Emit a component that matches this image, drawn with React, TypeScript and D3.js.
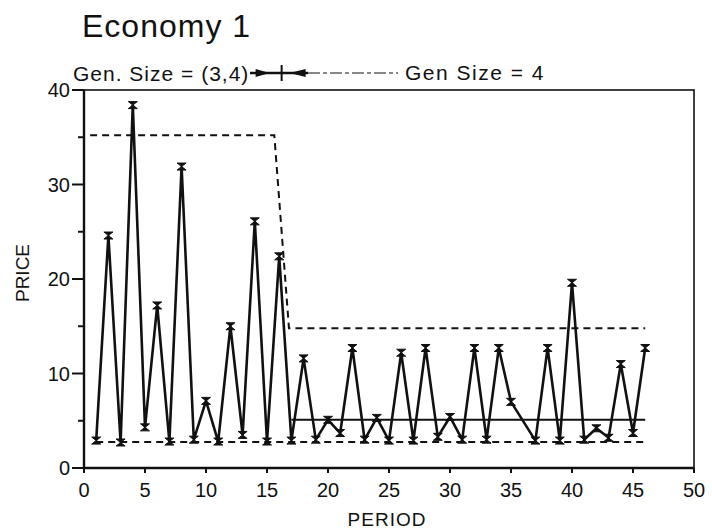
import * as d3 from "d3";
import { useEffect, useRef } from "react";

const periods = [1, 2, 3, 4, 5, 6, 7, 8, 9, 10, 11, 12, 13, 14, 15, 16, 17, 18, 19, 20, 21, 22, 23, 24, 25, 26, 27, 28, 29, 30, 31, 32, 33, 34, 35, 37, 38, 39, 40, 41, 42, 43, 44, 45, 46];
const prices = [2.9, 24.6, 2.7, 38.4, 4.3, 17.2, 2.8, 31.9, 3.0, 7.1, 2.8, 15.0, 3.5, 26.1, 2.8, 22.4, 2.9, 11.6, 3.0, 5.1, 3.7, 12.7, 3.0, 5.3, 2.9, 12.2, 2.9, 12.7, 3.3, 5.4, 3.0, 12.7, 3.0, 12.7, 7.0, 2.9, 12.7, 2.9, 19.6, 3.0, 4.2, 3.2, 11.0, 3.7, 12.7];

// upper bound (dashed, drops when generation size changes)
const upperPeriods = [0.5, 15.6, 16.8, 46];
const upperValues = [35.2, 35.2, 14.8, 14.8];
// lower bound (dashed)
const lowerPeriods = [1, 46];
const lowerValues = [2.75, 2.75];
// equilibrium for gen size 4 (solid)
const eqPeriods = [17, 46];
const eqValues = [5.1, 5.1];

const xTicks = [0, 5, 10, 15, 20, 25, 30, 35, 40, 45, 50];
const yTicks = [0, 5, 10, 15, 20, 25, 30, 35, 40];
const yLabels = [0, 10, 20, 30, 40];
const switchPeriod = 16.2;

const W = 712;
const H = 529;
const FONT = "'Liberation Sans', Arial, Helvetica, sans-serif";

export default function App() {
  const ref = useRef<SVGSVGElement>(null);

  useEffect(() => {
    if (!ref.current) return;
    const svg = d3.select(ref.current);
    svg.selectAll("*").remove();

    const x = d3.scaleLinear().domain([0, 50]).range([84, 694]);
    const y = d3.scaleLinear().domain([0, 40]).range([468, 90]);

    svg.append("rect").attr("width", W).attr("height", H).attr("fill", "white");

    // title
    svg
      .append("text")
      .attr("x", 82)
      .attr("y", 37)
      .attr("font-family", FONT)
      .attr("font-size", 32)
      .attr("letter-spacing", 1)
      .attr("fill", "#111")
      .text("Economy 1");

    // frame
    svg
      .append("rect")
      .attr("x", x(0))
      .attr("y", y(40))
      .attr("width", x(50) - x(0))
      .attr("height", y(0) - y(40))
      .attr("fill", "none")
      .attr("stroke", "#111")
      .attr("stroke-width", 1.6);
    svg
      .append("line")
      .attr("x1", x(0))
      .attr("x2", x(50))
      .attr("y1", y(0))
      .attr("y2", y(0))
      .attr("stroke", "#111")
      .attr("stroke-width", 2.4);
    svg
      .append("line")
      .attr("x1", x(0))
      .attr("x2", x(0))
      .attr("y1", y(0))
      .attr("y2", y(40))
      .attr("stroke", "#111")
      .attr("stroke-width", 2.4);

    // x ticks
    svg
      .selectAll(".xt")
      .data(xTicks)
      .enter()
      .append("line")
      .attr("x1", (d) => x(d))
      .attr("x2", (d) => x(d))
      .attr("y1", y(0))
      .attr("y2", y(0) + 5)
      .attr("stroke", "#111")
      .attr("stroke-width", 2);
    svg
      .selectAll(".xl")
      .data(xTicks)
      .enter()
      .append("text")
      .attr("x", (d) => x(d))
      .attr("y", 497)
      .attr("text-anchor", "middle")
      .attr("font-family", FONT)
      .attr("font-size", 20)
      .attr("fill", "#111")
      .text((d) => d);

    // y ticks
    svg
      .selectAll(".yt")
      .data(yTicks)
      .enter()
      .append("line")
      .attr("x1", (d) => (d % 10 === 0 ? x(0) - 12 : x(0) - 6))
      .attr("x2", x(0))
      .attr("y1", (d) => y(d))
      .attr("y2", (d) => y(d))
      .attr("stroke", "#111")
      .attr("stroke-width", 2);
    svg
      .selectAll(".yl")
      .data(yLabels)
      .enter()
      .append("text")
      .attr("x", x(0) - 14)
      .attr("y", (d) => y(d) + 7)
      .attr("text-anchor", "end")
      .attr("font-family", FONT)
      .attr("font-size", 20)
      .attr("fill", "#111")
      .text((d) => d);

    // axis titles
    svg
      .append("text")
      .attr("x", 387)
      .attr("y", 526)
      .attr("text-anchor", "middle")
      .attr("font-family", FONT)
      .attr("font-size", 19)
      .attr("letter-spacing", 1)
      .attr("fill", "#111")
      .text("PERIOD");
    svg
      .append("text")
      .attr("transform", `translate(29,${273}) rotate(-90)`)
      .attr("text-anchor", "middle")
      .attr("font-family", FONT)
      .attr("font-size", 19)
      .attr("fill", "#111")
      .text("PRICE");

    const line = d3
      .line<[number, number]>()
      .x((d) => x(d[0]))
      .y((d) => y(d[1]));
    const zip = (a: number[], b: number[]) => a.map((v, i) => [v, b[i]] as [number, number]);

    // reference lines
    svg
      .append("path")
      .attr("d", line(zip(upperPeriods, upperValues)))
      .attr("fill", "none")
      .attr("stroke", "#111")
      .attr("stroke-width", 2)
      .attr("stroke-dasharray", "7,5");
    svg
      .append("path")
      .attr("d", line(zip(lowerPeriods, lowerValues)))
      .attr("fill", "none")
      .attr("stroke", "#111")
      .attr("stroke-width", 2)
      .attr("stroke-dasharray", "7,5");
    svg
      .append("path")
      .attr("d", line(zip(eqPeriods, eqValues)))
      .attr("fill", "none")
      .attr("stroke", "#111")
      .attr("stroke-width", 2);

    // price series
    const pts = zip(periods, prices);
    svg
      .append("path")
      .attr("d", line(pts))
      .attr("fill", "none")
      .attr("stroke", "#111")
      .attr("stroke-width", 2.6)
      .attr("stroke-linejoin", "miter");
    svg
      .selectAll(".mk")
      .data(pts)
      .enter()
      .append("path")
      .attr("transform", (d) => `translate(${x(d[0])},${y(d[1])})`)
      .attr("d", "M-4.5,-3.5L4.5,-3.5L0,0ZM-4.5,3.5L4.5,3.5L0,0Z")
      .attr("fill", "#111")
      .attr("stroke", "#111")
      .attr("stroke-width", 1);

    // generation size annotation
    const ay = 73;
    const xs = x(switchPeriod);
    svg
      .append("text")
      .attr("x", 73)
      .attr("y", 81)
      .attr("font-family", FONT)
      .attr("font-size", 21)
      .attr("letter-spacing", 1)
      .attr("fill", "#111")
      .text("Gen. Size = (3,4)");
    svg
      .append("text")
      .attr("x", 405)
      .attr("y", 80)
      .attr("font-family", FONT)
      .attr("font-size", 21)
      .attr("letter-spacing", 1.5)
      .attr("fill", "#111")
      .text("Gen  Size = 4");
    svg
      .append("line")
      .attr("x1", 250)
      .attr("x2", 308)
      .attr("y1", ay)
      .attr("y2", ay)
      .attr("stroke", "#111")
      .attr("stroke-width", 2.5);
    svg
      .append("line")
      .attr("x1", 308)
      .attr("x2", 398)
      .attr("y1", ay)
      .attr("y2", ay)
      .attr("stroke", "#111")
      .attr("stroke-width", 1)
      .attr("stroke-dasharray", "12,3,4,3");
    svg
      .append("line")
      .attr("x1", xs)
      .attr("x2", xs)
      .attr("y1", ay - 8)
      .attr("y2", ay + 8)
      .attr("stroke", "#111")
      .attr("stroke-width", 2);
    svg
      .append("path")
      .attr("d", `M${xs - 26},${ay - 4}L${xs - 12},${ay}L${xs - 26},${ay + 4}Z`)
      .attr("fill", "#111");
    svg
      .append("path")
      .attr("d", `M${xs + 24},${ay - 4}L${xs + 8},${ay}L${xs + 24},${ay + 4}Z`)
      .attr("fill", "#111");
  }, []);

  return (
    <svg
      ref={ref}
      width={W}
      height={H}
      style={{ position: "absolute", left: 0, top: 0 }}
    />
  );
}
